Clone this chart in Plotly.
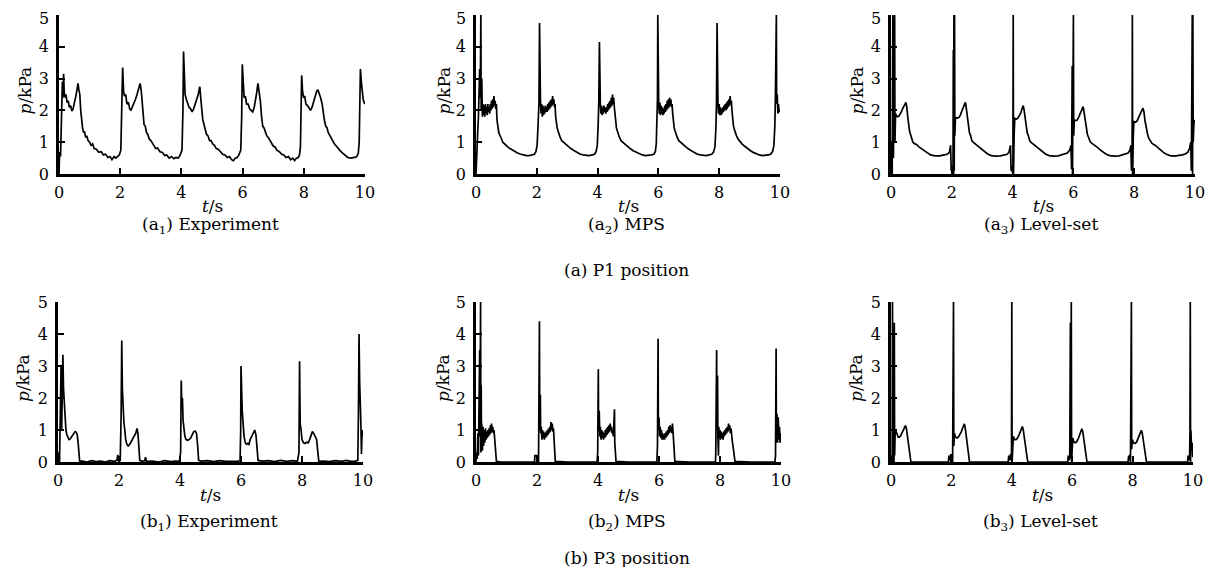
import plotly.graph_objects as go

# page body has an 8px default margin, so the figure is sized to fit the 1214x575 window
PAGE_W, PAGE_H, BODY = 1214, 575, 8
W, H = PAGE_W - 2 * BODY, PAGE_H - 2 * BODY

# ---------------- data (t in s, p in kPa) ----------------
exp_p1 = [(0.00,0.0),(0.02,0.7),(0.05,0.55),(0.08,1.5),(0.11,2.9),(0.13,2.4),(0.15,3.15),(0.17,2.6),(0.20,2.4),(0.23,2.5),(0.26,2.25),(0.30,2.3),(0.34,2.1),(0.38,2.15),(0.42,1.98),(0.46,2.05),(0.50,2.2),(0.54,2.4),(0.58,2.6),(0.62,2.85),(0.65,2.65),(0.68,2.5),(0.71,2.0),(0.74,1.6),(0.77,1.45),(0.80,1.3),(0.83,1.35),(0.87,1.15),(0.91,1.2),(0.95,1.05),(1.00,1.0),(1.05,0.9),(1.10,0.95),(1.15,0.8),(1.22,0.78),(1.30,0.68),(1.38,0.7),(1.45,0.6),(1.52,0.62),(1.60,0.52),(1.67,0.55),(1.73,0.45),(1.80,0.55),(1.86,0.5),(1.92,0.55),(1.97,0.6),(2.02,0.75),(2.05,1.8),(2.08,3.35),(2.11,2.6),(2.14,2.45),(2.18,2.5),(2.22,2.2),(2.27,2.25),(2.31,2.05),(2.35,2.0),(2.40,2.1),(2.45,2.2),(2.50,2.35),(2.55,2.5),(2.60,2.65),(2.65,2.85),(2.69,2.6),(2.72,2.2),(2.75,1.8),(2.78,1.55),(2.82,1.5),(2.86,1.3),(2.90,1.25),(2.95,1.1),(3.00,1.05),(3.05,0.95),(3.10,0.9),(3.16,0.8),(3.22,0.82),(3.30,0.7),(3.38,0.68),(3.45,0.58),(3.52,0.6),(3.60,0.5),(3.68,0.55),(3.75,0.48),(3.82,0.52),(3.90,0.5),(3.96,0.6),(4.02,0.75),(4.05,2.0),(4.07,3.85),(4.09,2.8),(4.12,2.5),(4.16,2.35),(4.20,2.2),(4.25,2.1),(4.30,2.05),(4.35,1.95),(4.40,2.05),(4.45,2.2),(4.50,2.35),(4.55,2.5),(4.60,2.75),(4.63,2.5),(4.66,2.1),(4.70,1.7),(4.74,1.5),(4.78,1.4),(4.82,1.25),(4.87,1.2),(4.92,1.05),(4.97,1.05),(5.02,0.95),(5.08,0.9),(5.14,0.8),(5.20,0.78),(5.28,0.7),(5.35,0.62),(5.42,0.6),(5.50,0.52),(5.57,0.55),(5.64,0.45),(5.70,0.42),(5.76,0.5),(5.82,0.52),(5.88,0.6),(5.94,0.75),(5.97,1.8),(5.99,3.45),(6.02,2.7),(6.05,2.4),(6.09,2.45),(6.13,2.2),(6.18,2.2),(6.23,2.05),(6.28,2.0),(6.33,1.95),(6.38,2.1),(6.42,2.3),(6.46,2.55),(6.50,2.85),(6.54,2.6),(6.58,2.3),(6.62,1.8),(6.66,1.5),(6.70,1.45),(6.74,1.3),(6.79,1.2),(6.84,1.15),(6.90,1.05),(6.95,1.0),(7.00,0.88),(7.06,0.85),(7.12,0.75),(7.20,0.7),(7.28,0.62),(7.35,0.6),(7.42,0.52),(7.50,0.55),(7.57,0.45),(7.64,0.5),(7.70,0.42),(7.76,0.5),(7.82,0.52),(7.86,0.6),(7.89,0.85),(7.91,2.0),(7.93,3.1),(7.96,2.6),(7.99,2.4),(8.03,2.45),(8.07,2.2),(8.12,2.15),(8.17,2.05),(8.22,2.0),(8.27,2.1),(8.32,2.3),(8.37,2.45),(8.42,2.6),(8.46,2.65),(8.50,2.55),(8.55,2.4),(8.60,2.2),(8.64,1.9),(8.68,1.65),(8.72,1.5),(8.76,1.45),(8.80,1.3),(8.85,1.2),(8.90,1.1),(8.95,1.05),(9.00,0.95),(9.06,0.88),(9.12,0.8),(9.20,0.72),(9.28,0.65),(9.36,0.58),(9.44,0.52),(9.52,0.5),(9.60,0.5),(9.67,0.52),(9.73,0.55),(9.78,0.65),(9.81,1.0),(9.83,2.5),(9.85,3.3),(9.88,2.9),(9.91,2.6),(9.94,2.35),(9.97,2.25),(10.0,2.2)]

mps_p1 = [(0.00,0.0),(0.02,0.7),(0.04,1.0),(0.06,1.4),(0.08,1.8),(0.10,2.8),(0.12,3.3),(0.14,2.4),(0.16,5.0),(0.17,2.0),(0.19,3.0),(0.21,1.8),(0.23,2.2),(0.25,1.85),(0.27,2.15),(0.29,1.8),(0.31,2.2),(0.33,1.9),(0.35,2.1),(0.37,1.85),(0.39,2.2),(0.41,1.95),(0.43,2.1),(0.45,1.9),(0.47,2.2),(0.49,2.0),(0.51,2.3),(0.53,2.05),(0.55,2.35),(0.57,2.1),(0.59,2.45),(0.61,2.15),(0.63,2.3),(0.65,2.05),(0.67,2.2),(0.69,1.7),(0.71,1.5),(0.73,1.4),(0.75,1.3),(0.77,1.25),(0.80,1.15),(0.84,1.1),(0.88,1.0),(0.93,0.95),(1.00,0.88),(1.08,0.82),(1.16,0.78),(1.25,0.72),(1.35,0.67),(1.45,0.63),(1.55,0.6),(1.65,0.58),(1.75,0.58),(1.85,0.6),(1.92,0.62),(1.97,0.7),(2.01,0.9),(2.04,1.5),(2.07,2.2),(2.09,4.75),(2.10,2.6),(2.12,2.3),(2.14,1.9),(2.16,2.2),(2.18,1.8),(2.20,2.15),(2.22,1.85),(2.24,2.1),(2.26,1.9),(2.28,2.15),(2.30,1.95),(2.32,2.1),(2.34,1.95),(2.36,2.2),(2.38,2.0),(2.40,2.25),(2.42,2.05),(2.44,2.3),(2.46,2.1),(2.48,2.35),(2.50,2.15),(2.52,2.45),(2.54,2.2),(2.56,2.35),(2.58,2.1),(2.60,2.2),(2.62,1.8),(2.64,1.6),(2.67,1.45),(2.70,1.35),(2.73,1.25),(2.77,1.15),(2.82,1.05),(2.88,1.0),(2.95,0.92),(3.03,0.85),(3.12,0.8),(3.22,0.74),(3.32,0.68),(3.42,0.63),(3.52,0.6),(3.62,0.58),(3.72,0.58),(3.82,0.6),(3.90,0.62),(3.95,0.7),(3.99,0.9),(4.02,1.6),(4.04,2.3),(4.06,4.15),(4.07,3.0),(4.09,2.2),(4.11,1.9),(4.13,2.15),(4.15,1.85),(4.17,2.1),(4.19,1.9),(4.21,2.15),(4.23,1.95),(4.25,2.1),(4.27,1.9),(4.29,2.1),(4.31,1.95),(4.33,2.2),(4.35,2.0),(4.37,2.25),(4.39,2.05),(4.41,2.3),(4.43,2.1),(4.45,2.4),(4.47,2.15),(4.49,2.5),(4.51,2.2),(4.53,2.4),(4.55,2.1),(4.57,1.9),(4.59,1.6),(4.62,1.45),(4.65,1.35),(4.68,1.25),(4.72,1.15),(4.77,1.05),(4.83,1.0),(4.90,0.92),(4.98,0.85),(5.07,0.8),(5.17,0.73),(5.27,0.68),(5.37,0.63),(5.47,0.6),(5.57,0.58),(5.67,0.58),(5.77,0.6),(5.85,0.62),(5.90,0.7),(5.93,0.95),(5.95,1.6),(5.97,2.4),(5.98,5.0),(5.99,2.5),(6.01,2.2),(6.03,1.9),(6.05,2.25),(6.07,1.85),(6.09,2.15),(6.11,1.9),(6.13,2.1),(6.15,1.85),(6.17,2.05),(6.19,1.9),(6.21,2.15),(6.23,1.95),(6.25,2.2),(6.27,2.0),(6.29,2.3),(6.31,2.05),(6.33,2.35),(6.35,2.1),(6.37,2.4),(6.39,2.15),(6.41,2.35),(6.43,2.1),(6.45,2.2),(6.47,1.9),(6.49,1.6),(6.52,1.45),(6.55,1.35),(6.58,1.25),(6.62,1.15),(6.67,1.05),(6.73,1.0),(6.80,0.92),(6.88,0.85),(6.97,0.8),(7.07,0.74),(7.17,0.68),(7.27,0.63),(7.37,0.6),(7.47,0.58),(7.57,0.58),(7.67,0.6),(7.75,0.62),(7.81,0.68),(7.86,0.85),(7.89,1.4),(7.91,2.2),(7.93,4.75),(7.94,2.6),(7.96,2.2),(7.98,1.9),(8.00,2.2),(8.02,1.85),(8.04,2.1),(8.06,1.85),(8.08,2.05),(8.10,1.9),(8.12,2.1),(8.14,1.95),(8.16,2.15),(8.18,2.0),(8.20,2.2),(8.22,2.0),(8.24,2.25),(8.26,2.05),(8.28,2.3),(8.30,2.1),(8.32,2.35),(8.34,2.15),(8.36,2.45),(8.38,2.2),(8.40,2.3),(8.42,2.0),(8.44,1.7),(8.47,1.5),(8.50,1.4),(8.53,1.3),(8.57,1.2),(8.62,1.1),(8.68,1.02),(8.75,0.95),(8.83,0.88),(8.92,0.8),(9.02,0.74),(9.12,0.68),(9.22,0.63),(9.32,0.6),(9.42,0.58),(9.52,0.58),(9.62,0.6),(9.70,0.63),(9.76,0.72),(9.80,0.9),(9.83,1.5),(9.85,2.5),(9.86,3.8),(9.87,2.6),(9.88,5.0),(9.89,2.2),(9.91,2.5),(9.93,1.9),(9.95,2.2),(9.97,1.95),(10.0,2.0)]

ls_p1 = [(0.00,0.0),(0.02,1.0),(0.04,0.0),(0.06,5.0),(0.08,0.5),(0.10,2.0),(0.12,5.0),(0.13,1.0),(0.15,1.9),(0.18,1.82),(0.22,1.8),(0.26,1.82),(0.30,1.88),(0.34,1.95),(0.38,2.05),(0.42,2.15),(0.46,2.2),(0.49,2.25),(0.52,2.1),(0.55,1.8),(0.58,1.5),(0.61,1.35),(0.64,1.25),(0.68,1.1),(0.72,1.0),(0.78,0.95),(0.85,0.92),(0.92,0.85),(1.00,0.8),(1.10,0.72),(1.20,0.65),(1.30,0.6),(1.45,0.57),(1.60,0.57),(1.75,0.6),(1.85,0.62),(1.92,0.68),(1.96,0.9),(1.98,0.1),(2.00,0.25),(2.02,0.05),(2.04,0.2),(2.05,3.9),(2.06,0.0),(2.07,5.0),(2.08,0.1),(2.09,5.0),(2.10,1.2),(2.12,1.78),(2.18,1.76),(2.24,1.78),(2.28,1.85),(2.33,1.95),(2.38,2.1),(2.42,2.2),(2.45,2.25),(2.48,2.05),(2.52,1.75),(2.55,1.45),(2.58,1.3),(2.62,1.2),(2.66,1.05),(2.70,1.0),(2.76,0.95),(2.82,0.92),(2.90,0.85),(2.98,0.78),(3.08,0.7),(3.18,0.63),(3.30,0.58),(3.45,0.56),(3.60,0.57),(3.72,0.6),(3.82,0.62),(3.88,0.68),(3.93,0.9),(3.95,0.1),(3.97,0.25),(3.99,0.05),(4.01,0.2),(4.02,5.0),(4.03,0.0),(4.04,5.0),(4.05,1.2),(4.07,1.75),(4.12,1.73),(4.17,1.75),(4.22,1.82),(4.27,1.92),(4.31,2.05),(4.35,2.15),(4.38,2.0),(4.42,1.7),(4.45,1.45),(4.48,1.3),(4.52,1.2),(4.56,1.05),(4.60,1.0),(4.66,0.95),(4.72,0.92),(4.80,0.85),(4.88,0.78),(4.98,0.7),(5.08,0.63),(5.20,0.58),(5.35,0.56),(5.50,0.57),(5.62,0.6),(5.72,0.62),(5.80,0.66),(5.88,0.75),(5.92,0.9),(5.94,0.15),(5.96,3.4),(5.97,0.0),(5.98,5.0),(5.99,0.0),(6.00,5.0),(6.01,1.2),(6.03,1.7),(6.08,1.68),(6.13,1.7),(6.18,1.8),(6.23,1.92),(6.28,2.05),(6.32,2.12),(6.35,1.95),(6.39,1.65),(6.42,1.4),(6.46,1.25),(6.50,1.15),(6.55,1.02),(6.60,0.97),(6.66,0.93),(6.72,0.9),(6.80,0.83),(6.88,0.76),(6.98,0.68),(7.08,0.62),(7.20,0.58),(7.35,0.56),(7.50,0.57),(7.62,0.6),(7.72,0.62),(7.80,0.66),(7.86,0.75),(7.89,0.9),(7.91,0.1),(7.93,0.25),(7.94,5.0),(7.95,0.0),(7.96,5.0),(7.97,1.2),(7.99,1.65),(8.04,1.63),(8.09,1.66),(8.14,1.75),(8.19,1.88),(8.24,1.98),(8.29,2.07),(8.32,1.95),(8.36,1.65),(8.40,1.4),(8.44,1.25),(8.48,1.12),(8.53,1.02),(8.58,0.97),(8.64,0.93),(8.70,0.9),(8.78,0.83),(8.86,0.76),(8.96,0.68),(9.06,0.62),(9.18,0.58),(9.32,0.56),(9.46,0.57),(9.58,0.6),(9.68,0.63),(9.76,0.68),(9.82,0.8),(9.86,1.0),(9.88,0.1),(9.90,2.5),(9.91,5.0),(9.92,0.0),(9.93,5.0),(9.94,1.0),(9.97,1.7),(10.0,1.6)]

exp_p3 = [(0.00,0.0),(0.03,0.3),(0.05,0.0),(0.08,2.0),(0.10,3.0),(0.12,1.0),(0.14,2.3),(0.16,3.35),(0.18,2.3),(0.20,2.0),(0.22,1.5),(0.24,1.2),(0.26,1.0),(0.29,0.85),(0.32,0.75),(0.36,0.7),(0.40,0.72),(0.44,0.78),(0.48,0.85),(0.52,0.92),(0.56,0.95),(0.60,0.93),(0.63,0.85),(0.66,0.6),(0.69,0.15),(0.71,0.02),(0.80,0.03),(0.95,0.0),(1.10,0.04),(1.25,0.01),(1.40,0.03),(1.55,0.0),(1.70,0.04),(1.85,0.02),(1.93,0.05),(1.96,0.22),(1.99,0.03),(2.04,0.05),(2.07,1.5),(2.09,3.8),(2.11,2.3),(2.13,1.5),(2.16,1.25),(2.19,1.0),(2.22,0.7),(2.26,0.55),(2.30,0.5),(2.35,0.55),(2.40,0.65),(2.45,0.72),(2.50,0.8),(2.55,0.9),(2.59,1.05),(2.62,0.9),(2.65,0.5),(2.68,0.05),(2.75,0.02),(2.84,0.04),(2.87,0.15),(2.90,0.02),(3.10,0.03),(3.30,0.0),(3.50,0.04),(3.70,0.01),(3.85,0.03),(3.98,0.02),(4.02,0.3),(4.04,2.55),(4.06,1.7),(4.08,2.0),(4.10,1.3),(4.13,1.1),(4.16,0.8),(4.20,0.7),(4.25,0.68),(4.30,0.7),(4.35,0.75),(4.40,0.85),(4.45,0.95),(4.50,0.97),(4.54,0.9),(4.58,0.5),(4.61,0.05),(4.70,0.03),(4.90,0.04),(5.10,0.01),(5.30,0.04),(5.50,0.02),(5.70,0.03),(5.90,0.02),(5.97,0.05),(5.99,1.0),(6.00,3.0),(6.02,1.75),(6.04,1.6),(6.07,1.2),(6.10,0.8),(6.14,0.6),(6.18,0.55),(6.22,0.58),(6.26,0.55),(6.30,0.7),(6.35,0.8),(6.40,0.9),(6.45,1.0),(6.49,0.85),(6.53,0.5),(6.56,0.05),(6.70,0.03),(6.90,0.04),(7.10,0.01),(7.30,0.05),(7.50,0.02),(7.70,0.04),(7.85,0.02),(7.90,0.3),(7.92,3.15),(7.94,1.2),(7.97,1.0),(8.00,0.7),(8.05,0.6),(8.10,0.58),(8.15,0.62),(8.20,0.6),(8.25,0.7),(8.30,0.85),(8.34,0.95),(8.38,0.9),(8.43,0.8),(8.48,0.7),(8.52,0.3),(8.55,0.02),(8.70,0.03),(8.90,0.01),(9.10,0.04),(9.30,0.02),(9.45,0.05),(9.60,0.02),(9.75,0.03),(9.83,0.05),(9.85,1.5),(9.87,4.0),(9.89,2.5),(9.91,2.0),(9.93,1.2),(9.95,0.25),(9.97,1.0),(10.0,0.8)]

mps_p3 = [(0.00,0.0),(0.02,0.3),(0.04,0.1),(0.06,0.9),(0.08,0.2),(0.10,1.5),(0.12,3.5),(0.13,0.8),(0.15,5.0),(0.16,0.3),(0.17,2.4),(0.18,0.4),(0.19,1.2),(0.21,0.35),(0.23,1.1),(0.25,0.5),(0.27,1.0),(0.29,0.6),(0.31,1.05),(0.33,0.7),(0.35,0.95),(0.37,0.75),(0.39,1.0),(0.41,0.8),(0.43,1.05),(0.45,0.85),(0.47,1.15),(0.49,0.9),(0.51,1.2),(0.53,0.95),(0.55,1.1),(0.57,0.9),(0.59,1.0),(0.61,0.7),(0.64,0.4),(0.67,0.02),(0.80,0.0),(1.20,0.0),(1.60,0.0),(1.92,0.0),(1.93,0.2),(2.04,0.2),(2.05,0.0),(2.06,1.5),(2.08,4.4),(2.09,1.0),(2.11,2.1),(2.12,0.9),(2.14,1.1),(2.16,0.7),(2.18,1.0),(2.20,0.75),(2.22,0.95),(2.24,0.7),(2.26,0.9),(2.28,0.75),(2.30,0.95),(2.32,0.8),(2.34,1.0),(2.36,0.85),(2.38,1.05),(2.40,0.9),(2.42,1.1),(2.44,0.95),(2.46,1.25),(2.48,1.0),(2.50,1.2),(2.52,0.95),(2.54,1.05),(2.56,0.7),(2.58,0.3),(2.60,0.02),(3.00,0.0),(3.50,0.0),(3.97,0.0),(3.99,0.3),(4.01,2.9),(4.02,1.0),(4.04,1.6),(4.06,0.8),(4.08,1.1),(4.10,0.7),(4.12,1.0),(4.14,0.75),(4.16,0.95),(4.18,0.7),(4.20,0.9),(4.22,0.75),(4.24,1.0),(4.26,0.8),(4.28,1.05),(4.30,0.85),(4.32,1.1),(4.34,0.9),(4.36,1.15),(4.38,0.95),(4.40,1.2),(4.42,1.0),(4.44,1.1),(4.46,0.9),(4.48,1.0),(4.50,0.8),(4.52,1.2),(4.54,1.65),(4.55,0.6),(4.57,0.3),(4.59,0.02),(5.00,0.0),(5.50,0.0),(5.93,0.0),(5.95,0.5),(5.96,2.1),(5.97,3.85),(5.98,1.0),(6.00,1.4),(6.02,0.8),(6.04,1.1),(6.06,0.75),(6.08,1.0),(6.10,0.7),(6.12,0.9),(6.14,0.7),(6.16,0.85),(6.18,0.7),(6.20,0.9),(6.22,0.75),(6.24,0.95),(6.26,0.8),(6.28,1.0),(6.30,0.85),(6.32,1.1),(6.34,0.9),(6.36,1.15),(6.38,0.95),(6.40,1.1),(6.42,0.9),(6.44,1.2),(6.46,0.95),(6.48,0.6),(6.50,0.3),(6.52,0.02),(7.00,0.0),(7.50,0.0),(7.85,0.0),(7.86,0.2),(7.88,1.5),(7.89,3.5),(7.90,1.0),(7.92,2.7),(7.93,0.8),(7.95,0.2),(7.96,1.1),(7.98,0.75),(8.00,1.0),(8.02,0.7),(8.04,0.95),(8.06,0.75),(8.08,0.9),(8.10,0.7),(8.12,0.95),(8.14,0.8),(8.16,1.0),(8.18,0.85),(8.20,1.05),(8.22,0.9),(8.24,1.1),(8.26,0.95),(8.28,1.2),(8.30,1.0),(8.32,1.15),(8.34,0.9),(8.36,1.05),(8.38,0.8),(8.41,0.6),(8.44,0.4),(8.47,0.1),(8.49,0.02),(9.00,0.0),(9.50,0.0),(9.80,0.0),(9.82,0.2),(9.83,1.5),(9.84,3.55),(9.85,0.6),(9.87,1.5),(9.89,0.6),(9.91,1.4),(9.93,0.7),(9.95,1.1),(9.97,0.6),(9.99,0.9),(10.0,0.7)]

ls_p3 = [(0.00,0.0),(0.02,0.2),(0.04,0.0),(0.05,5.0),(0.06,0.0),(0.08,1.0),(0.10,0.0),(0.11,4.35),(0.12,0.2),(0.14,1.0),(0.17,0.95),(0.20,0.85),(0.24,0.78),(0.28,0.78),(0.32,0.82),(0.36,0.9),(0.40,1.0),(0.44,1.08),(0.48,1.14),(0.51,1.05),(0.54,0.85),(0.57,0.6),(0.60,0.35),(0.63,0.1),(0.66,0.0),(1.90,0.0),(1.92,0.2),(1.95,0.05),(1.98,0.25),(2.01,0.05),(2.03,0.2),(2.04,0.0),(2.05,5.0),(2.06,0.0),(2.07,5.0),(2.08,0.5),(2.10,0.9),(2.13,0.78),(2.18,0.75),(2.23,0.78),(2.28,0.85),(2.33,0.95),(2.38,1.08),(2.43,1.19),(2.46,1.05),(2.49,0.8),(2.52,0.55),(2.55,0.3),(2.58,0.05),(2.60,0.0),(3.88,0.0),(3.90,0.2),(3.93,0.05),(3.96,0.25),(3.98,0.05),(3.99,0.2),(4.00,5.0),(4.01,0.0),(4.02,5.0),(4.03,0.4),(4.05,0.8),(4.09,0.7),(4.14,0.7),(4.19,0.75),(4.24,0.85),(4.29,0.98),(4.35,1.11),(4.38,1.0),(4.41,0.75),(4.45,0.5),(4.49,0.25),(4.52,0.05),(4.54,0.0),(5.85,0.0),(5.87,0.2),(5.90,0.05),(5.92,0.25),(5.94,4.35),(5.95,0.1),(5.97,5.0),(5.98,0.0),(5.99,5.0),(6.00,0.4),(6.02,0.75),(6.06,0.62),(6.11,0.6),(6.16,0.65),(6.21,0.75),(6.26,0.9),(6.32,1.04),(6.35,0.95),(6.38,0.72),(6.42,0.5),(6.46,0.2),(6.49,0.0),(7.85,0.0),(7.87,0.2),(7.90,0.05),(7.92,0.25),(7.93,0.0),(7.94,5.0),(7.95,0.0),(7.96,5.0),(7.97,0.4),(7.99,0.7),(8.03,0.6),(8.08,0.58),(8.13,0.62),(8.18,0.72),(8.23,0.85),(8.29,0.99),(8.32,0.9),(8.35,0.7),(8.39,0.45),(8.43,0.2),(8.46,0.0),(9.82,0.0),(9.84,0.2),(9.87,0.05),(9.89,0.25),(9.90,1.0),(9.91,5.0),(9.92,0.0),(9.93,1.0),(9.95,0.5),(9.97,0.6),(9.99,0.2),(10.0,0.15)]

x_ticks = [0, 2, 4, 6, 8, 10]
y_ticks = [0, 1, 2, 3, 4, 5]
captions = ["(a<sub>1</sub>) Experiment", "(a<sub>2</sub>) MPS", "(a<sub>3</sub>) Level-set",
            "(b<sub>1</sub>) Experiment", "(b<sub>2</sub>) MPS", "(b<sub>3</sub>) Level-set"]
row_titles = ["(a) P1 position", "(b) P3 position"]
series = [exp_p1, mps_p1, ls_p1, exp_p3, mps_p3, ls_p3]

# ---------------- layout geometry (window pixels) ----------------
panel_x = [(59, 365), (476, 780), (891, 1195), (58, 363), (476, 781), (891, 1193)]
panel_y = [(15, 174), (15, 174), (15, 174), (302, 462), (302, 462), (302, 462)]
ytitle_x = [24, 443, 856, 23, 443, 856]
tlabel_y = [206, 206, 206, 495, 495, 495]
cap_y = [225, 225, 225, 522, 522, 522]
row_title_pos = [(626, 270), (627, 558)]
top_label_y = 18  # the top row's "5" label sits just inside the page edge

FONT = "DejaVu Serif, Liberation Serif, serif"
TICK_SIZE = 16
TEXT_SIZE = 17


def fx(px):
    return (px - BODY) / W


def fy(py):
    return 1 - (py - BODY) / H


fig = go.Figure()
layout = dict(width=W, height=H, margin=dict(l=0, r=0, t=0, b=0, pad=0),
              paper_bgcolor="white", plot_bgcolor="white", showlegend=False,
              font=dict(family=FONT, size=TEXT_SIZE, color="black"))
annotations = []

for i, data in enumerate(series):
    n = i + 1
    xa = "x" if n == 1 else f"x{n}"
    ya = "y" if n == 1 else f"y{n}"
    t = [d[0] for d in data]
    p = [d[1] for d in data]
    fig.add_trace(go.Scatter(x=t, y=p, mode="lines", xaxis=xa, yaxis=ya,
                             line=dict(color="black", width=1.7), hoverinfo="skip"))
    x0, x1 = panel_x[i]
    y0, y1 = panel_y[i]
    top_row = i < 3
    ytext = [str(v) for v in y_ticks]
    if top_row:
        ytext[-1] = ""
    common = dict(showline=True, linecolor="black", linewidth=2.5, ticks="inside",
                  ticklen=6, tickwidth=2, tickcolor="black", showgrid=False,
                  zeroline=False, tickfont=dict(family=FONT, size=TICK_SIZE, color="black"),
                  fixedrange=True, automargin=False, ticklabeloverflow="allow")
    layout["xaxis" if n == 1 else f"xaxis{n}"] = dict(
        common, domain=[fx(x0), fx(x1)], range=[0, 10],
        tickvals=x_ticks, anchor=ya, ticklabelstandoff=2)
    layout["yaxis" if n == 1 else f"yaxis{n}"] = dict(
        common, domain=[fy(y1), fy(y0)], range=[0, 5],
        tickvals=y_ticks, ticktext=ytext, anchor=xa, ticklabelstandoff=4)
    if top_row:
        annotations.append(dict(text=str(y_ticks[-1]), x=fx(x0 - 8), y=fy(top_label_y),
                                xref="paper", yref="paper", showarrow=False,
                                xanchor="right", yanchor="middle",
                                font=dict(size=TICK_SIZE)))
    cx = (x0 + x1) / 2
    cy = (y0 + y1) / 2
    annotations.append(dict(text="<i>p</i>/kPa", x=fx(ytitle_x[i]), y=fy(cy - 4),
                            xref="paper", yref="paper", showarrow=False, textangle=-90,
                            xanchor="center", yanchor="middle", font=dict(size=TEXT_SIZE)))
    annotations.append(dict(text="<i>t</i>/s", x=fx(cx), y=fy(tlabel_y[i]),
                            xref="paper", yref="paper", showarrow=False,
                            xanchor="center", yanchor="middle", font=dict(size=TEXT_SIZE)))
    annotations.append(dict(text=captions[i], x=fx(cx - 2), y=fy(cap_y[i]),
                            xref="paper", yref="paper", showarrow=False,
                            xanchor="center", yanchor="middle", font=dict(size=TEXT_SIZE)))

for txt, (px, py) in zip(row_titles, row_title_pos):
    annotations.append(dict(text=txt, x=fx(px), y=fy(py),
                            xref="paper", yref="paper", showarrow=False,
                            xanchor="center", yanchor="middle", font=dict(size=TEXT_SIZE)))

layout["annotations"] = annotations
fig.update_layout(**layout)
fig.write_html("out.html")
